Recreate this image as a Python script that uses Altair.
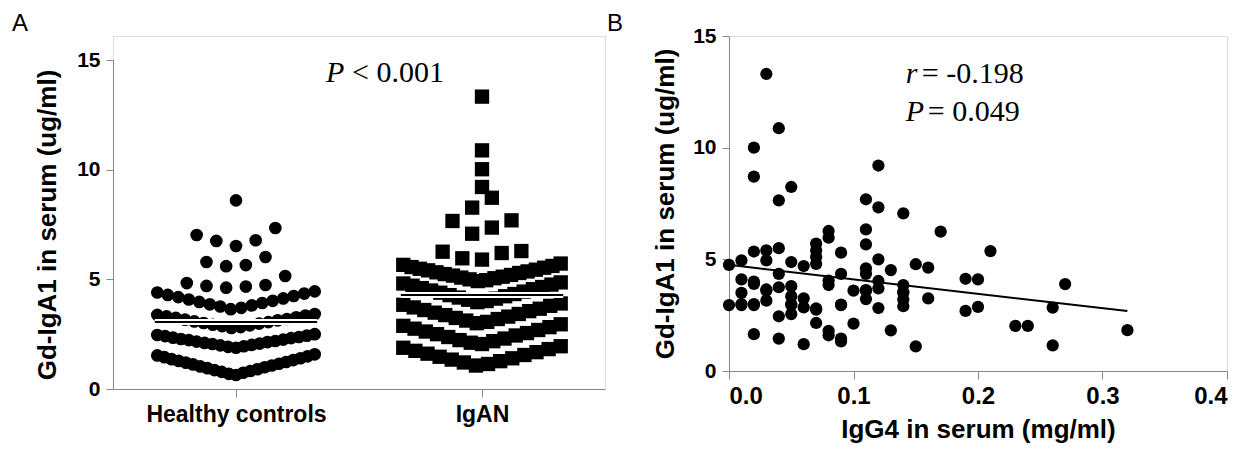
import altair as alt
import pandas as pd

# ---------------- Panel A data (Gd-IgA1, ug/ml) ----------------
healthy_values = [
    0.64, 0.69, 0.74, 0.78, 0.82, 0.86, 0.90, 0.95, 0.99, 1.03, 1.07, 1.12,
    1.15, 1.20, 1.23, 1.28, 1.32, 1.36, 1.40, 1.45, 1.49, 1.53, 1.58,
    1.88, 1.92, 1.95, 1.99, 2.01, 2.05, 2.07, 2.10, 2.14, 2.16, 2.19, 2.23,
    2.25, 2.28, 2.32, 2.34, 2.37, 2.41, 2.43, 2.46, 2.50,
    2.78, 2.82, 2.87, 2.90, 2.93, 2.98, 3.01, 3.05, 3.08, 3.13, 3.16, 3.19,
    3.24, 3.27, 3.31, 3.35, 3.38, 3.42,
    3.64, 3.70, 3.76, 3.81, 3.86, 3.92, 3.97, 4.02, 4.08, 4.13, 4.19, 4.24,
    4.29, 4.35, 4.40, 4.45,
    4.62, 4.67, 4.70, 4.74, 4.83, 5.15, 5.60, 5.65, 5.79, 6.02,
    6.52, 6.75, 6.78, 7.02, 7.34, 8.60,
]
igan_values = [
    1.07, 1.14, 1.21, 1.27, 1.34, 1.40, 1.47, 1.55, 1.61, 1.68, 1.74, 1.82,
    1.88, 1.95,
    2.05, 2.11, 2.18, 2.23, 2.30, 2.37, 2.44, 2.50, 2.55, 2.62, 2.69, 2.75,
    2.82, 2.88, 2.95,
    3.00, 3.06, 3.12, 3.19, 3.24, 3.30, 3.37, 3.42, 3.48, 3.55, 3.60, 3.66,
    3.72, 3.79, 3.84, 3.90,
    3.96, 4.01, 4.07, 4.12, 4.17, 4.23, 4.28, 4.33, 4.39, 4.44, 4.49, 4.55,
    4.60, 4.65, 4.71, 4.76, 4.81, 4.86,
    4.92, 4.96, 5.00, 5.05, 5.08, 5.12, 5.17, 5.20, 5.24, 5.29, 5.32, 5.36,
    5.41, 5.44, 5.48, 5.53, 5.56, 5.61, 5.66, 5.72,
    5.90, 5.96, 6.20, 6.26, 6.29, 7.08, 7.36, 7.66, 7.69, 8.27, 8.72, 9.21,
    10.02, 10.88, 13.33,
]
group_names = ["Healthy controls", "IgAN"]

# ---------------- Panel B data ----------------
igg4 = [
    0.00, 0.00,
    0.01, 0.01, 0.01, 0.01, 0.01,
    0.02, 0.02, 0.02, 0.02, 0.02, 0.02, 0.02, 0.02,
    0.03, 0.03, 0.03, 0.03, 0.03, 0.03,
    0.04, 0.04, 0.04, 0.04, 0.04, 0.04, 0.04,
    0.05, 0.05, 0.05, 0.05, 0.05, 0.05, 0.05,
    0.06, 0.06, 0.06, 0.06,
    0.07, 0.07, 0.07, 0.07, 0.07, 0.07, 0.07,
    0.08, 0.08, 0.08, 0.08, 0.08, 0.08,
    0.09, 0.09, 0.09, 0.09, 0.09, 0.09,
    0.10, 0.10,
    0.11, 0.11, 0.11, 0.11, 0.11, 0.11, 0.11, 0.11,
    0.12, 0.12, 0.12, 0.12, 0.12, 0.12,
    0.13, 0.13,
    0.14, 0.14, 0.14, 0.14, 0.14, 0.14,
    0.15, 0.15,
    0.16, 0.16,
    0.17,
    0.19, 0.19,
    0.20, 0.20,
    0.21, 0.23, 0.24,
    0.26, 0.26,
    0.27, 0.32,
]
gd_iga1 = [
    4.75, 2.95,
    4.95, 4.10, 3.50, 2.95, 3.00,
    10.00, 8.70, 5.35, 4.00, 3.00, 1.65, 3.90, 2.95,
    13.30, 5.40, 4.95, 3.65, 3.15, 3.60,
    10.87, 7.64, 5.50, 4.35, 3.75, 2.45, 1.45,
    8.24, 4.88, 3.80, 3.35, 2.95, 2.55, 3.00,
    4.70, 3.25, 2.85, 1.20,
    5.70, 5.40, 5.10, 4.80, 2.80, 2.15, 2.75,
    6.27, 5.97, 4.05, 3.85, 1.80, 1.60,
    5.30, 4.35, 2.97, 1.45, 1.33, 2.95,
    3.60, 2.12,
    7.69, 6.34, 5.67, 4.60, 4.35, 3.62, 3.22, 3.60,
    9.20, 7.33, 5.00, 4.03, 3.70, 2.82,
    4.52, 1.82,
    7.06, 3.85, 3.55, 3.20, 2.90, 3.50,
    4.78, 1.10,
    4.63, 3.25,
    6.24,
    4.13, 2.69,
    4.10, 2.87,
    5.37, 2.02, 2.02,
    2.84, 1.15,
    3.89, 1.83,
]


def dot_slots(values, bin_w=0.96, half_span=8.0, gap=2.0):
    """GraphPad-like scatter-dot layout: bin values into rows, lowest value
    in the middle of each row, then alternate outwards."""
    vmin = min(values)
    rows = {}
    for v in values:
        rows.setdefault(int((v - vmin) / bin_w), []).append(v)
    out = []
    for _, vs in sorted(rows.items()):
        vs = sorted(vs)
        n = len(vs)
        s = gap if n <= 1 else min(gap, 2 * half_span / (n - 1))
        order = []
        if n % 2 == 1:
            order.append(0.0)
            k = 1
            while len(order) < n:
                order.append(-k * s)
                if len(order) < n:
                    order.append(k * s)
                k += 1
        else:
            k = 0.5
            while len(order) < n:
                order.append(-k * s)
                order.append(k * s)
                k += 1
        out += list(zip(vs, order))
    return out


SLOT = 0.04  # one slot step in category units
recs = []
for gi, vals in enumerate([healthy_values, igan_values]):
    for v, s in dot_slots(vals):
        recs.append({"gi": gi, "group": group_names[gi], "value": v,
                     "xpos": gi + s * SLOT})
dfA = pd.DataFrame(recs)
dfB = pd.DataFrame({"igg4": igg4, "gd": gd_iga1})

SANS = "Liberation Sans"
SERIF = "Liberation Serif"

# ---------------- Panel A ----------------
HA = 353  # panel A view height (top aligned with panel B)
xA_scale = alt.Scale(domain=[-0.5, 1.5], nice=False, zero=False)
yA_scale = alt.Scale(domain=[0, 15], nice=False, range=[HA, 24])
xA_axis = alt.Axis(values=[0, 1], title=None, grid=False,
                   labelExpr="datum.value == 0 ? 'Healthy controls' : 'IgAN'",
                   labelFontSize=23, labelFontWeight="bold", labelPadding=6,
                   labelLimit=0, tickSize=8)
yA_axis = alt.Axis(values=[0, 5, 10, 15], title="Gd-IgA1 in serum (ug/ml)",
                   grid=False, labelFontSize=21, labelFontWeight="bold",
                   labelPadding=6, tickSize=7,
                   titleFontSize=26, titlePadding=16)

baseA = alt.Chart(dfA)
dots_h = baseA.transform_filter(alt.datum.gi == 0).mark_circle(
    size=160, color="black", opacity=1).encode(
    x=alt.X("xpos:Q", scale=xA_scale, axis=xA_axis),
    y=alt.Y("value:Q", scale=yA_scale, axis=yA_axis))
dots_i = baseA.transform_filter(alt.datum.gi == 1).mark_square(
    size=205, color="black", opacity=1).encode(
    x=alt.X("xpos:Q", scale=xA_scale, axis=xA_axis),
    y=alt.Y("value:Q", scale=yA_scale, axis=yA_axis))

mean_base = baseA.transform_aggregate(
    m="mean(value)", groupby=["gi"]).transform_calculate(
    x1="datum.gi - 0.33", x2="datum.gi + 0.33")
mean_halo = mean_base.mark_rule(color="white", strokeWidth=6).encode(
    x=alt.X("x1:Q", scale=xA_scale, axis=xA_axis), x2="x2:Q",
    y=alt.Y("m:Q", scale=yA_scale, axis=yA_axis))
mean_line = mean_base.mark_rule(color="black", strokeWidth=2).encode(
    x=alt.X("x1:Q", scale=xA_scale, axis=xA_axis), x2="x2:Q",
    y=alt.Y("m:Q", scale=yA_scale, axis=yA_axis))

annA = pd.DataFrame({"x": [0.366], "y": [14.0]})
pA_italic = alt.Chart(annA).mark_text(
    text="P", font=SERIF, fontStyle="italic", fontSize=30, align="left",
    baseline="alphabetic", color="black").encode(
    x=alt.X("x:Q", scale=xA_scale), y=alt.Y("y:Q", scale=yA_scale))
pA_rest = alt.Chart(annA).mark_text(
    text="< 0.001", font=SERIF, fontSize=30, align="left", dx=26,
    baseline="alphabetic", color="black").encode(
    x=alt.X("x:Q", scale=xA_scale), y=alt.Y("y:Q", scale=yA_scale))
letterA = alt.Chart(annA).mark_text(
    text="A", font=SANS, fontSize=24, align="left", baseline="alphabetic",
    color="black").encode(x=alt.value(-101), y=alt.value(-5))

panelA = alt.layer(dots_h, dots_i, mean_halo, mean_line, pA_italic, pA_rest,
                   letterA).properties(width=492, height=HA)

# ---------------- Panel B ----------------
xB_scale = alt.Scale(domain=[0, 0.4], nice=False)
yB_scale = alt.Scale(domain=[0, 15], nice=False)
xB_axis = alt.Axis(values=[0, 0.1, 0.2, 0.3, 0.4], format=".1f",
                   title="IgG4 in serum (mg/ml)", grid=False,
                   labelFontSize=24, labelFontWeight="bold", labelPadding=5,
                   tickSize=8, titleFontSize=26, titlePadding=8)
yB_axis = alt.Axis(values=[0, 5, 10, 15], title="Gd-IgA1 in serum (ug/ml)",
                   grid=False, labelFontSize=21, labelFontWeight="bold",
                   labelPadding=6, tickSize=7,
                   titleFontSize=26, titlePadding=14)

baseB = alt.Chart(dfB)
dotsB = baseB.mark_circle(size=150, color="black", opacity=1).encode(
    x=alt.X("igg4:Q", scale=xB_scale, axis=xB_axis),
    y=alt.Y("gd:Q", scale=yB_scale, axis=yB_axis))
fitB = baseB.transform_regression("igg4", "gd").mark_line(
    color="black", strokeWidth=2).encode(
    x=alt.X("igg4:Q", scale=xB_scale, axis=xB_axis),
    y=alt.Y("gd:Q", scale=yB_scale, axis=yB_axis))

annB = pd.DataFrame({"x": [0.142, 0.142], "y": [12.9, 11.2],
                     "sym": ["r", "P"], "rest": ["= -0.198", "= 0.049"]})
symB = alt.Chart(annB).mark_text(
    font=SERIF, fontStyle="italic", fontSize=30, align="left",
    baseline="alphabetic", color="black").encode(
    x="x:Q", y="y:Q", text="sym:N")
restB1 = alt.Chart(annB.iloc[[0]]).mark_text(
    font=SERIF, fontSize=30, align="left", dx=16,
    baseline="alphabetic", color="black").encode(
    x="x:Q", y="y:Q", text="rest:N")
restB2 = alt.Chart(annB.iloc[[1]]).mark_text(
    font=SERIF, fontSize=30, align="left", dx=22,
    baseline="alphabetic", color="black").encode(
    x="x:Q", y="y:Q", text="rest:N")
letterB = alt.Chart(annA).mark_text(
    text="B", font=SANS, fontSize=24, align="left", baseline="alphabetic",
    color="black").encode(x=alt.value(-122), y=alt.value(-5))

panelB = alt.layer(dotsB, fitB, symB, restB1, restB2, letterB).properties(
    width=498, height=335)

chart = alt.hconcat(panelA, panelB, spacing=0).properties(
    padding={"left": 3, "top": 3, "right": 0, "bottom": 0}
).configure_view(stroke=None).configure_axis(
    domainColor="black", domainWidth=2, tickColor="black", tickWidth=2,
    labelFont=SANS, labelFontWeight="bold", labelColor="black",
    titleFont=SANS, titleFontWeight="bold", titleColor="black",
).configure(background="white")

chart.save("out.html", embed_options={"renderer": "svg", "actions": False})
